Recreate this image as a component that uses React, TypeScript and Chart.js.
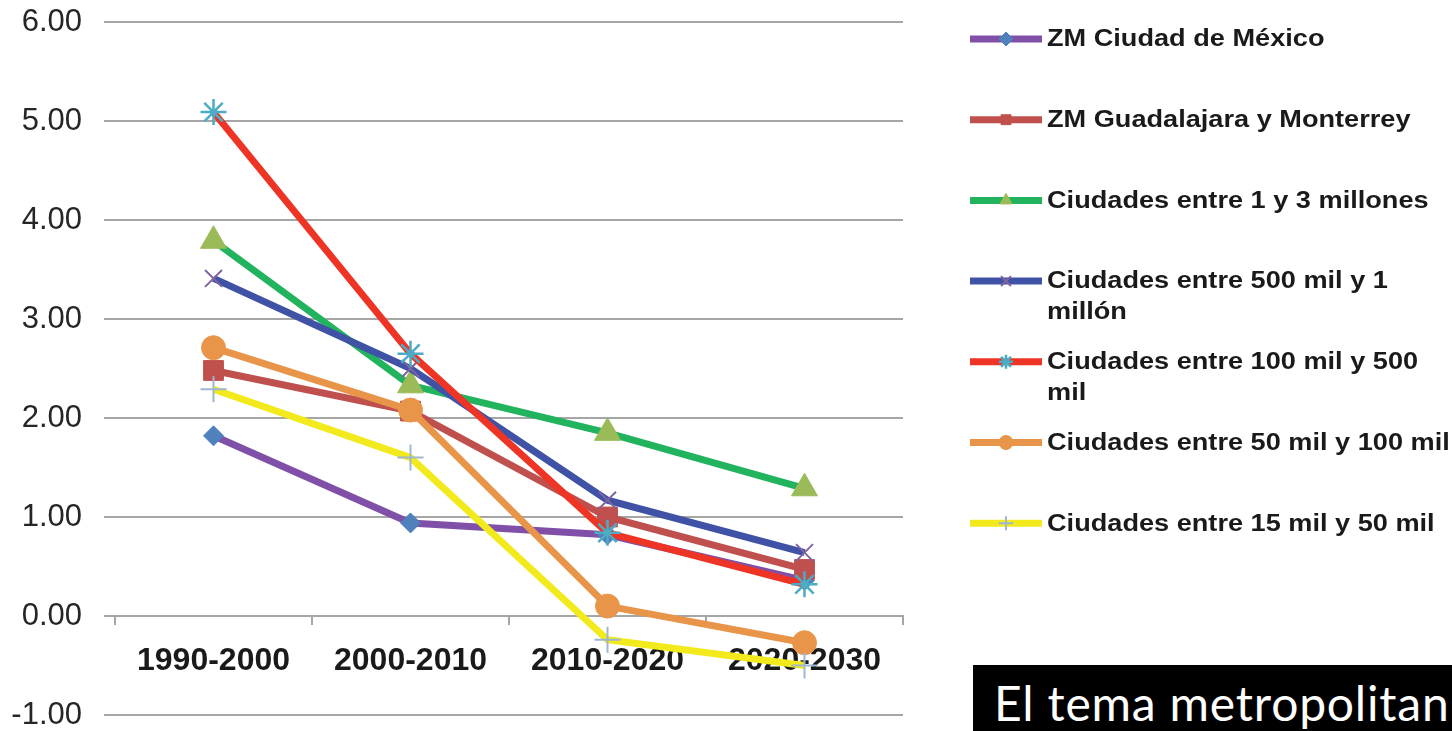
import { useEffect, useRef } from 'react';
import { Chart, registerables } from 'chart.js';
import { drawPoint } from 'chart.js/helpers';

Chart.register(...registerables);

const categories = ['1990-2000', '2000-2010', '2010-2020', '2020-2030'];

const seriesNames = [
  'ZM Ciudad de México',
  'ZM Guadalajara y Monterrey',
  'Ciudades entre 1 y 3 millones',
  'Ciudades entre 500 mil y 1 millón',
  'Ciudades entre 100 mil y 500 mil',
  'Ciudades entre 50 mil y 100 mil',
  'Ciudades entre 15 mil y 50 mil',
];

// legend text as it wraps in the reference
const legendLines = [
  ['ZM Ciudad de México'],
  ['ZM Guadalajara y Monterrey'],
  ['Ciudades entre 1 y 3 millones'],
  ['Ciudades entre 500 mil y 1', 'millón'],
  ['Ciudades entre 100 mil y 500', 'mil'],
  ['Ciudades entre 50 mil y 100 mil'],
  ['Ciudades entre 15 mil y 50 mil'],
];

const zmCdmx = [1.82, 0.94, 0.82, 0.36];
const zmGdlMty = [2.48, 2.07, 1.0, 0.47];
const ciudades1a3m = [3.79, 2.33, 1.85, 1.29];
const ciudades500ka1m = [3.41, 2.5, 1.17, 0.64];
const ciudades100ka500k = [5.09, 2.65, 0.84, 0.32];
const ciudades50ka100k = [2.71, 2.08, 0.1, -0.27];
const ciudades15ka50k = [2.29, 1.6, -0.24, -0.5];

const yMin = -1;
const yMax = 6;
const yStep = 1;

const seriesValues = [zmCdmx, zmGdlMty, ciudades1a3m, ciudades500ka1m, ciudades100ka500k, ciudades50ka100k, ciudades15ka50k];

const lineColors = ['#8050A8', '#C0504D', '#22B35E', '#3F52A6', '#EE3424', '#E8954A', '#F2EA1C'];
const markerColors = ['#4F81BD', '#C0504D', '#9BBB59', '#8064A2', '#4BACC6', '#E8954A', '#9DB6D2'];
const markerStyles = ['rectRot', 'rect', 'triangle', 'crossRot', 'star', 'circle', 'cross'];
const markerRadius = [10, 14, 15, 12, 13, 12, 13];
const markerBorder = [1, 1, 1, 2, 2.5, 1, 2];

const FONT = '"Liberation Sans", Arial, sans-serif';

const sideLegend = {
  id: 'sideLegend',
  afterDraw(chart: any) {
    const ctx = chart.ctx;
    const top = 39;
    const step = 80.7;
    chart.data.datasets.forEach((ds: any, i: number) => {
      const y = top + i * step;
      ctx.save();
      ctx.strokeStyle = ds.borderColor;
      ctx.lineWidth = 7;
      ctx.lineCap = 'butt';
      ctx.beginPath();
      ctx.moveTo(970, y);
      ctx.lineTo(1042, y);
      ctx.stroke();
      ctx.fillStyle = ds.pointBackgroundColor;
      ctx.strokeStyle = ds.pointBorderColor;
      ctx.lineWidth = ds.pointBorderWidth;
      drawPoint(ctx, { pointStyle: ds.pointStyle, radius: 7, rotation: 0, borderWidth: ds.pointBorderWidth }, 1006, y);
      ctx.fillStyle = '#1a1a1a';
      ctx.font = 'bold 23px ' + FONT;
      ctx.textBaseline = 'middle';
      ctx.textAlign = 'left';
      legendLines[i].forEach((ln, k) => {
        ctx.save();
        ctx.translate(1047, y + 1 + k * 31);
        ctx.scale(1.18, 1);
        ctx.fillText(ln, 0, 0);
        ctx.restore();
      });
      ctx.restore();
    });
  },
};

export default function App() {
  const canvasRef = useRef<HTMLCanvasElement | null>(null);

  useEffect(() => {
    if (!canvasRef.current) return;
    const n = seriesValues.length;
    const chart = new Chart(canvasRef.current, {
      type: 'line',
      data: {
        labels: categories,
        datasets: seriesValues.map((vals, i) => ({
          label: seriesNames[i],
          data: vals,
          borderColor: lineColors[i],
          backgroundColor: lineColors[i],
          borderWidth: 7,
          pointStyle: markerStyles[i] as any,
          pointRadius: markerRadius[i],
          pointBackgroundColor: markerColors[i],
          pointBorderColor: markerColors[i],
          pointBorderWidth: markerBorder[i],
          tension: 0,
          fill: false,
          order: n - i,
        })),
      },
      options: {
        animation: false,
        responsive: true,
        maintainAspectRatio: false,
        layout: { padding: { left: 0, top: 22, right: 549, bottom: 13 } },
        plugins: {
          legend: { display: false },
          tooltip: { enabled: false },
          title: { display: false },
        },
        scales: {
          x: {
            type: 'category',
            position: { y: 0 } as any,
            offset: true,
            grid: {
              offset: true,
              drawOnChartArea: false,
              drawTicks: true,
              tickLength: 8,
              color: '#A6A6A6',
              lineWidth: 2,
            },
            border: { display: true, color: '#A6A6A6', width: 2 },
            ticks: {
              font: { family: FONT, size: 32, weight: 'bold' },
              color: '#1a1a1a',
              padding: 18,
              maxRotation: 0,
              autoSkip: false,
            },
          },
          y: {
            min: yMin,
            max: yMax,
            grid: { color: '#A6A6A6', lineWidth: 2, tickLength: 11, drawTicks: true },
            border: { display: false },
            ticks: {
              stepSize: yStep,
              callback: (v: any) => Number(v).toFixed(2),
              font: { family: FONT, size: 31 },
              color: '#262626',
              padding: 22,
            },
            afterFit: (s: any) => {
              s.width = 115;
              s.paddingTop = 0;
              s.paddingBottom = 0;
            },
          },
        },
      },
      plugins: [sideLegend],
    });
    return () => chart.destroy();
  }, []);

  return (
    <div style={{ position: 'fixed', left: 0, top: 0, width: 1452, height: 731, background: '#fff', overflow: 'hidden' }}>
      <canvas ref={canvasRef} style={{ width: '100%', height: '100%' }} />
      <div
        style={{
          position: 'absolute',
          left: 973,
          top: 665,
          width: 479,
          height: 66,
          background: '#000',
          color: '#fff',
          fontFamily: 'Lato, "Open Sans", sans-serif',
          fontSize: 48,
          lineHeight: 1,
          letterSpacing: 0.8,
          paddingLeft: 21,
          paddingTop: 14,
          boxSizing: 'border-box',
          whiteSpace: 'nowrap',
          overflow: 'hidden',
        }}
      >
        El tema metropolitan
      </div>
    </div>
  );
}
